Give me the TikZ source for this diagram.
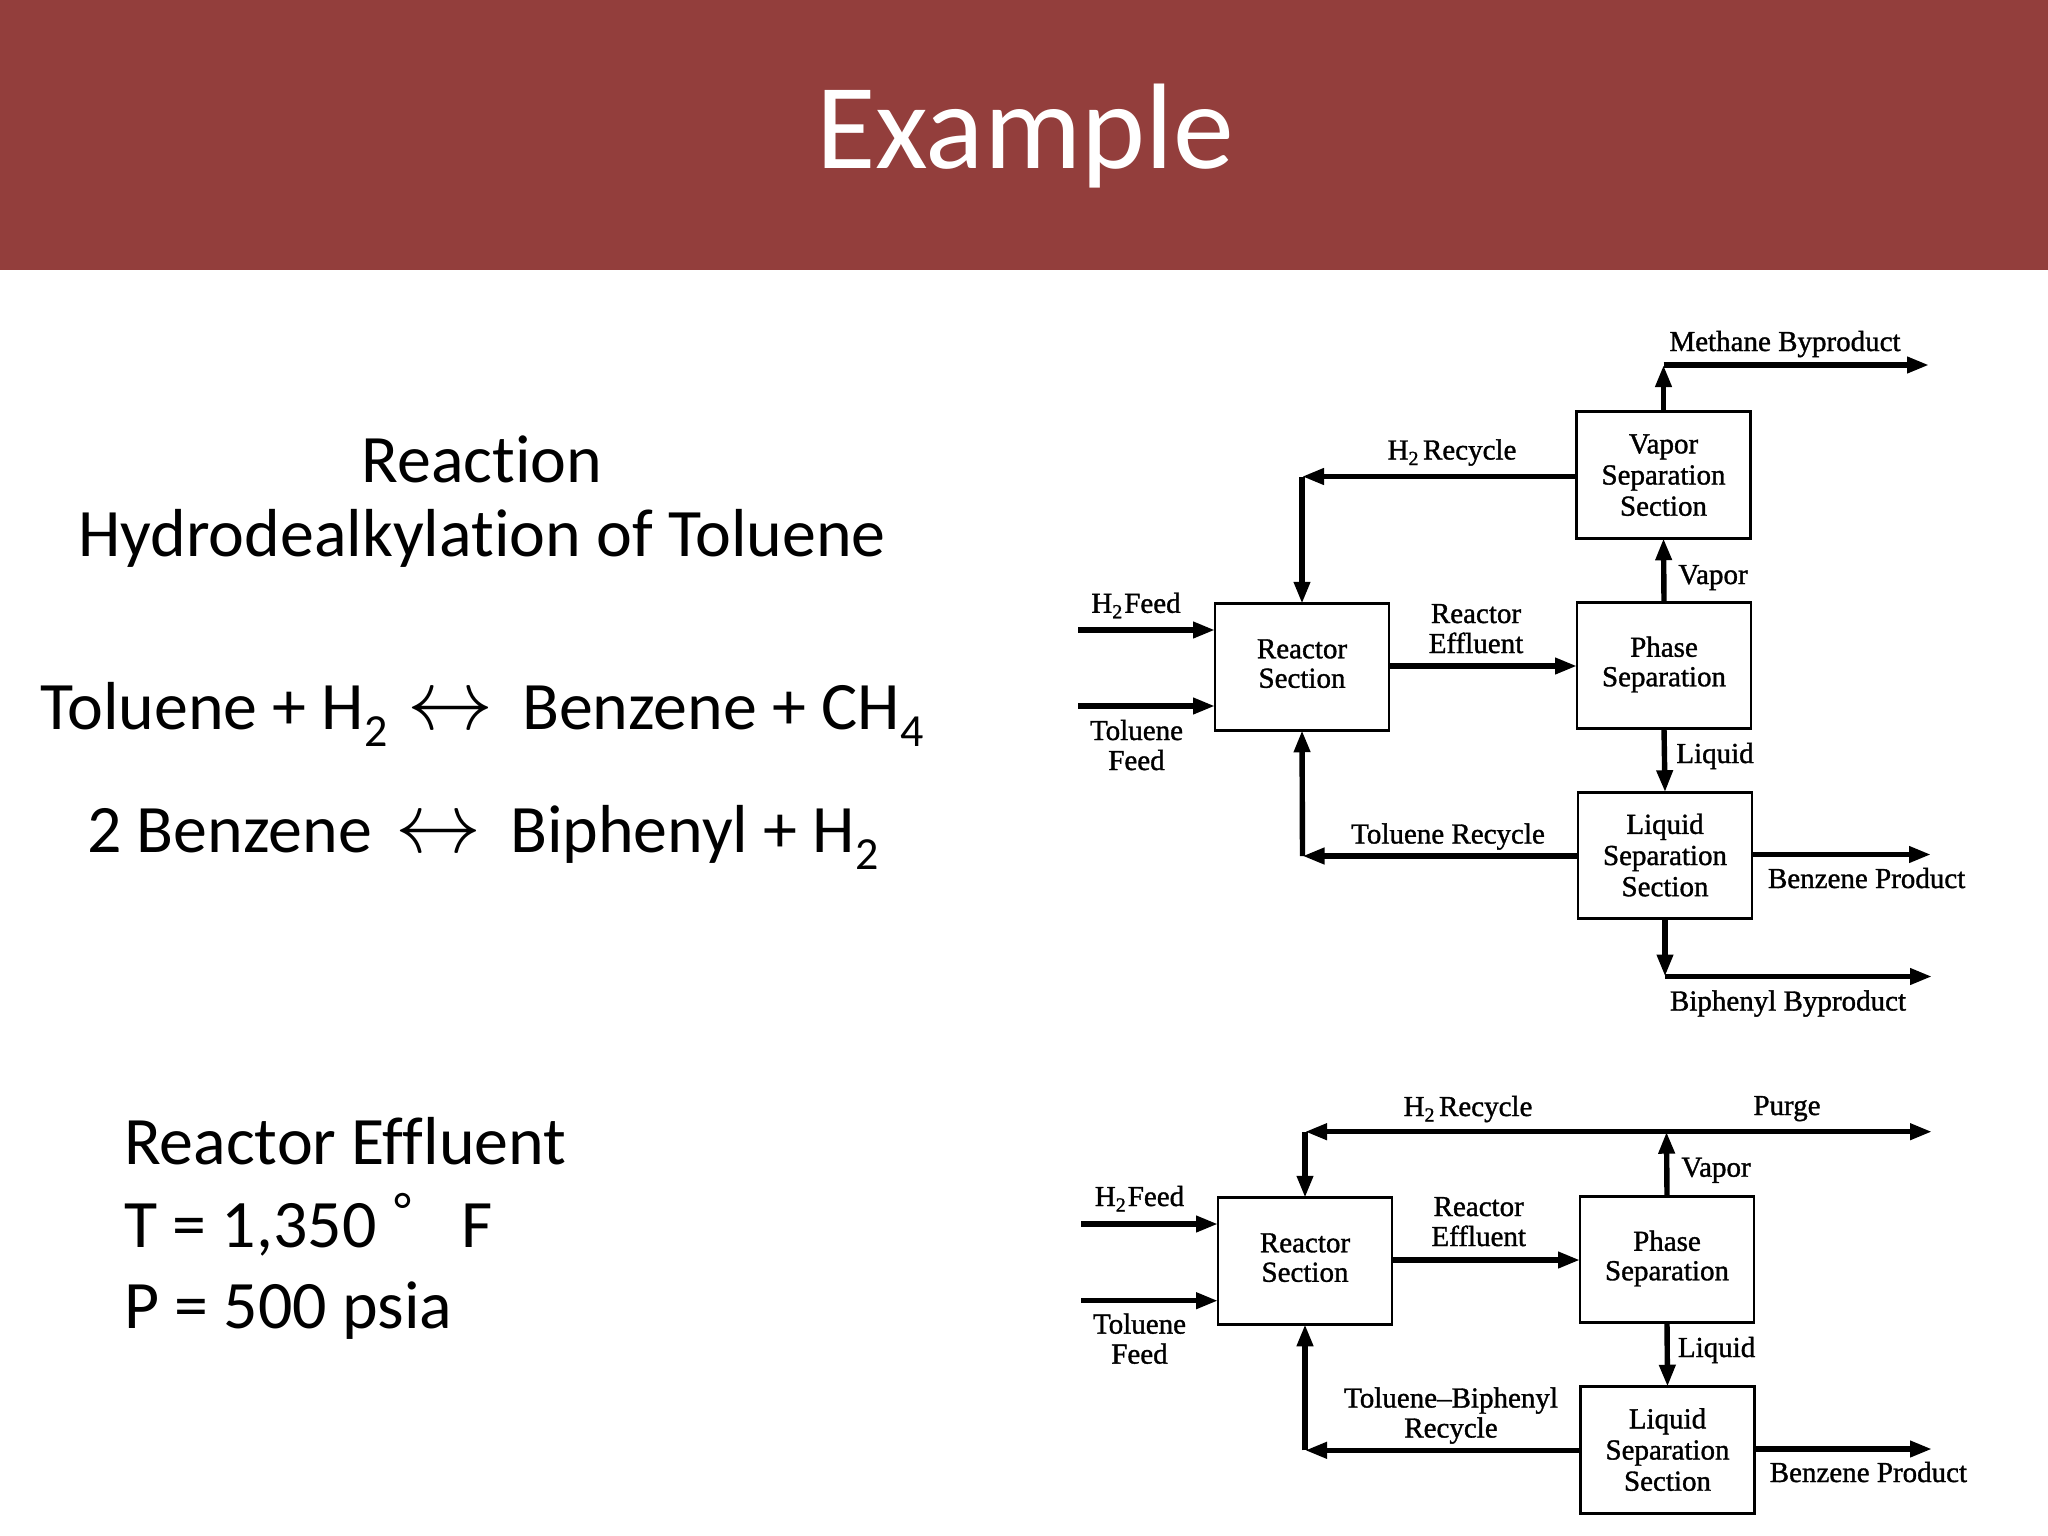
\documentclass[tikz,border=0pt]{standalone}
\usepackage{fontspec}
\usetikzlibrary{arrows.meta}
\newfontfamily\slidefont[Ligatures=NoCommon]{Carlito}
\newfontfamily\scanfont[FakeBold=1.2]{Liberation Serif}
\definecolor{banner}{HTML}{933E3C}
\font\lrfont=cmsy10 at 86pt
\newcommand{\lrsym}{{\lrfont\char"24}}
\newcommand{\sbb}[1]{\raisebox{-17pt}{\fontsize{46}{46}\selectfont #1}}
\newcommand{\stw}{\raisebox{-5.5pt}{\fontsize{20}{20}\selectfont 2}}
\newcommand{\lb}{\rule[-8.5pt]{0pt}{29pt}}
\newcommand{\lc}{\rule[-5pt]{0pt}{29pt}}
\tikzset{
  x=1pt,y=-1pt,
  procbox/.style={draw=black,line width=2.8pt,rectangle,minimum width=174pt,minimum height=126.5pt,inner sep=0pt,outer sep=0pt,align=center,font=\scanfont\fontsize{29}{29.5}\selectfont},
  flow/.style={draw=black,line width=5.4pt,-{Triangle[length=22pt,width=15.5pt]}},
  lab/.style={anchor=base,inner sep=0pt,font=\scanfont\fontsize{29}{30}\selectfont},
  labm/.style={anchor=center,inner sep=0pt,align=center,font=\scanfont\fontsize{29}{30}\selectfont},
  slide/.style={anchor=base west,inner sep=0pt,font=\slidefont\fontsize{67.9}{73}\selectfont},
  slidec/.style={anchor=base,inner sep=0pt,font=\slidefont\fontsize{67.9}{73}\selectfont},
  lrnode/.style={anchor=base,inner sep=0pt}
}
\begin{document}
\begin{tikzpicture}
\useasboundingbox (0,0) rectangle (2048,1536);
\fill[white] (0,0) rectangle (2048,1536);
\fill[banner] (0,0) rectangle (2048,270);
\node[anchor=base,inner sep=0pt,text=white,font=\slidefont\fontsize{121.7}{122}\selectfont] (title) at (1025,168) {Example};

% left-hand text
\node[slidec] (t1) at (482,482) {Reaction};
\node[slidec] (t2) at (482,556) {Hydrodealkylation of Toluene};
\node[slide] (e1a) at (40,729.5) {Toluene + H\sbb{2}};
\node[lrnode] (e1b) at (450,729.5) {\lrsym};
\node[slide] (e1c) at (522,729.5) {Benzene + CH\sbb{4}};
\node[slide] (e2a) at (87,852) {2 Benzene};
\node[lrnode] (e2b) at (438,852.5) {\lrsym};
\node[slide] (e2c) at (510,852) {Biphenyl + H\sbb{2}};
\node[slide] (r1) at (124,1164) {Reactor Effluent};
\node[slide] (r2) at (124,1247) {T = 1,350};
\node[slide] (r3) at (394,1247) {\raisebox{20pt}{\fontsize{50}{50}\selectfont °}};
\node[slide] (r4) at (461,1247) {F};
\node[slide] (r5) at (124,1328) {P = 500 psia};

% ---------- upper diagram
\node[procbox] (ra) at (1302,667) {\lb Reactor\\\lb Section};
\node[procbox] (pa) at (1664,665.5) {\lb Phase\\\lb Separation};
\node[procbox] (va) at (1663.5,475) {\lc Vapor\\\lc Separation\\\lc Section};
\node[procbox] (la) at (1665,855.5) {\lc Liquid\\\lc Separation\\\lc Section};

\coordinate (a0) at (1480,666);
\coordinate (a1) at (1078,630);
\coordinate (a2) at (1078,706);
\coordinate (a3) at (1302,476.5);
\coordinate (a4) at (1302.5,856);
\coordinate (a5) at (1663.5,365);
\coordinate (a6) at (1929,365);
\coordinate (a7) at (1931,854.5);
\coordinate (a8) at (1665,976.5);
\coordinate (a9) at (1932,976.5);

\draw[flow] (a1) -- (a1 -| ra.west);
\draw[flow] (a2) -- (a2 -| ra.west);
\draw[flow] (a0 -| ra.east) -- (a0 -| pa.west);
\draw[flow] (va.west |- a3) -- (a3);
\draw[flow] (a3) -- (ra.north);
\draw[flow] (pa.north) -- (va.south);
\draw[flow] (va.north) -- (a5);
\draw[flow] (a5) -- (a6);
\draw[flow] (pa.south) -- (la.north);
\draw[flow] (la.west |- a4) -- (a4);
\draw[flow] (a4) -- (ra.south);
\draw[flow] (a7 -| la.east) -- (a7);
\draw[flow] (la.south) -- (a8);
\draw[flow] (a8) -- (a9);

\node[lab] (la1) at (1785,351) {Methane Byproduct};
\node[lab] (la2) at (1452,459.5) {H\stw\hspace{4.5pt}Recycle};
\node[lab] (la3) at (1713,584) {Vapor};
\node[lab] (la4) at (1136,612.8) {H\stw\hspace{2pt}Feed};
\node[labm] (la5) at (1136.5,749) {\lb Toluene\\\lb Feed};
\node[labm] (la6) at (1476,632) {\lb Reactor\\\lb Effluent};
\node[lab] (la7) at (1715,763) {Liquid};
\node[lab] (la8) at (1448,843.5) {Toluene Recycle};
\node[lab] (la9) at (1866.6,888) {Benzene Product};
\node[lab] (la10) at (1788,1010.5) {Biphenyl Byproduct};

% ---------- lower diagram
\node[procbox] (rb) at (1305,1261) {\lb Reactor\\\lb Section};
\node[procbox] (pb) at (1667,1259.5) {\lb Phase\\\lb Separation};
\node[procbox] (lb) at (1667.5,1450) {\lc Liquid\\\lc Separation\\\lc Section};

\coordinate (b0) at (1480,1260);
\coordinate (b1) at (1081,1224);
\coordinate (b2) at (1081,1300.7);
\coordinate (b3) at (1305,1131.7);
\coordinate (b4) at (1305,1450.3);
\coordinate (b5) at (1666.5,1131.7);
\coordinate (b6) at (1932,1131.7);
\coordinate (b7) at (1932,1449);

\draw[flow] (b1) -- (b1 -| rb.west);
\draw[flow] (b2) -- (b2 -| rb.west);
\draw[flow] (b0 -| rb.east) -- (b0 -| pb.west);
\draw[flow] (b5) -- (b3);
\draw[flow] (b3) -- (rb.north);
\draw[flow] (b5) -- (b6);
\draw[flow] (pb.north) -- (b5);
\draw[flow] (pb.south) -- (lb.north);
\draw[flow] (lb.west |- b4) -- (b4);
\draw[flow] (b4) -- (rb.south);
\draw[flow] (b7 -| lb.east) -- (b7);

\node[lab] (lb1) at (1468,1116) {H\stw\hspace{4.5pt}Recycle};
\node[lab] (lb2) at (1787,1115) {Purge};
\node[lab] (lb3) at (1716,1176.7) {Vapor};
\node[lab] (lb4) at (1139.5,1206) {H\stw\hspace{2pt}Feed};
\node[labm] (lb5) at (1139.5,1342.6) {\lb Toluene\\\lb Feed};
\node[labm] (lb6) at (1478.7,1225) {\lb Reactor\\\lb Effluent};
\node[lab] (lb7) at (1716.6,1357) {Liquid};
\node[labm] (lb8) at (1451,1416.5) {\lb Toluene–Biphenyl\\\lb Recycle};
\node[lab] (lb9) at (1868.4,1482) {Benzene Product};
\end{tikzpicture}
\end{document}
